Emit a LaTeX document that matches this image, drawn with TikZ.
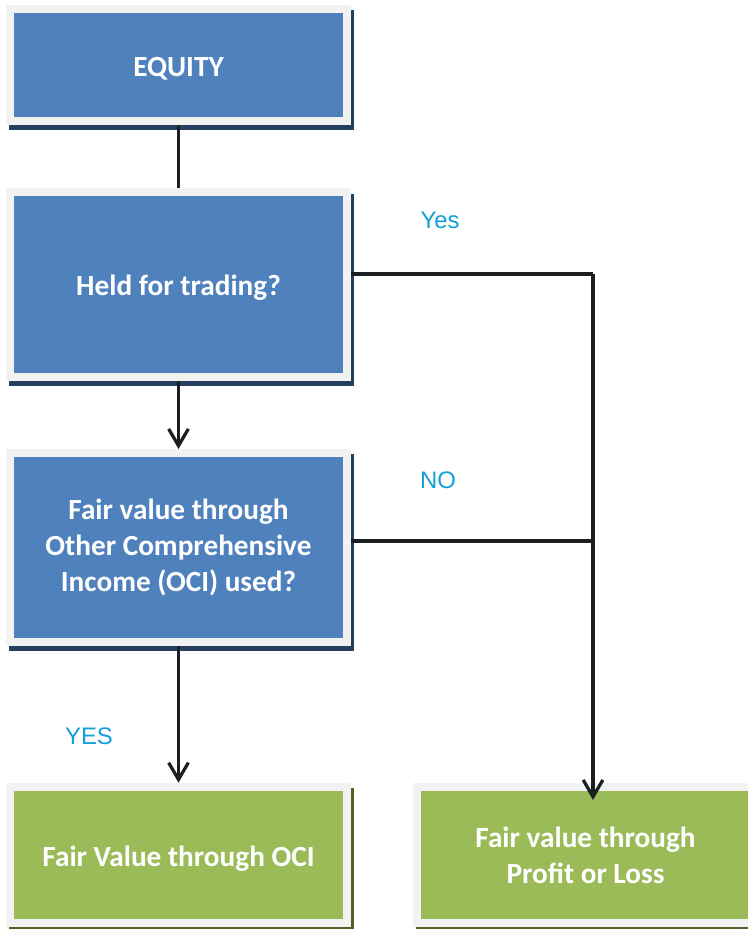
\documentclass[tikz,border=0pt]{standalone}
\usepackage{fontspec}
\setmainfont{Carlito}
\newfontfamily\labelfont{Liberation Sans}
\usetikzlibrary{arrows.meta}
\definecolor{boxblue}{HTML}{4F81BD}
\definecolor{boxgreen}{HTML}{9BBB59}
\definecolor{rim}{HTML}{F2F2F2}
\definecolor{shadeblue}{HTML}{243F60}
\definecolor{shadegreen}{HTML}{4F6228}
\definecolor{ansblue}{HTML}{12A0DA}
\definecolor{wire}{HTML}{1C1F22}
\tikzset{
  box/.style={draw=rim,line width=0.2cm,inner sep=0pt,minimum width=8.425cm,align=center,text=white,font=\bfseries\fontsize{20.8}{25.5}\selectfont},
  oneline/.style={text height=16pt,text depth=0pt},
  bluebox/.style={box,fill=boxblue,preaction={draw=shadeblue,fill=shadeblue,transform canvas={shift={(0.075cm,-0.13cm)}}}},
  greenbox/.style={box,fill=boxgreen,preaction={draw=shadegreen,fill=shadegreen,transform canvas={shift={(0.075cm,-0.13cm)}}}},
  link/.style={wire,line width=2.3pt},
  answer/.style={text=ansblue,font=\labelfont\fontsize{17}{20}\selectfont}
}
\begin{document}
\begin{tikzpicture}[x=0.025cm,y=-0.025cm,>={Straight Barb[length=12pt,width=14pt]}]
\clip(0,0)rectangle(748,929);
%decision boxes
\node[bluebox,oneline,minimum height=2.8cm](equity)at(178.5,65){EQUITY};
\node[bluebox,oneline,minimum height=4.6cm](held)at(178.5,284.5){Held for trading?};
\node[bluebox,minimum height=4.725cm](oci)at(178.5,547.5){Fair value through\\Other Comprehensive\\Income (OCI) used?};
%outcomes
\node[greenbox,oneline,minimum height=3.4125cm](fvoci)at(178.5,855){Fair Value through OCI};
\node[greenbox,minimum height=3.4125cm](fvpl)at(585.5,855){Fair value through\\Profit or Loss};
%
\draw[link](equity)--(held);
\draw[link,->](held)--(oci);
\draw[link,->](oci)--(fvoci);
\coordinate(turn)at(593,274);
\coordinate(join)at(593,541);
\coordinate(tip)at(593,800);
\draw[link](held.east|-turn)--(turn);
\draw[link,->](turn)--(tip);
\draw[link](oci.east|-join)--(join);
%answers
\node[answer](yesheld)at(440,220){Yes};
\node[answer](nooci)at(438,480){NO};
\node[answer](yesoci)at(89,736){YES};
\end{tikzpicture}
\end{document}
